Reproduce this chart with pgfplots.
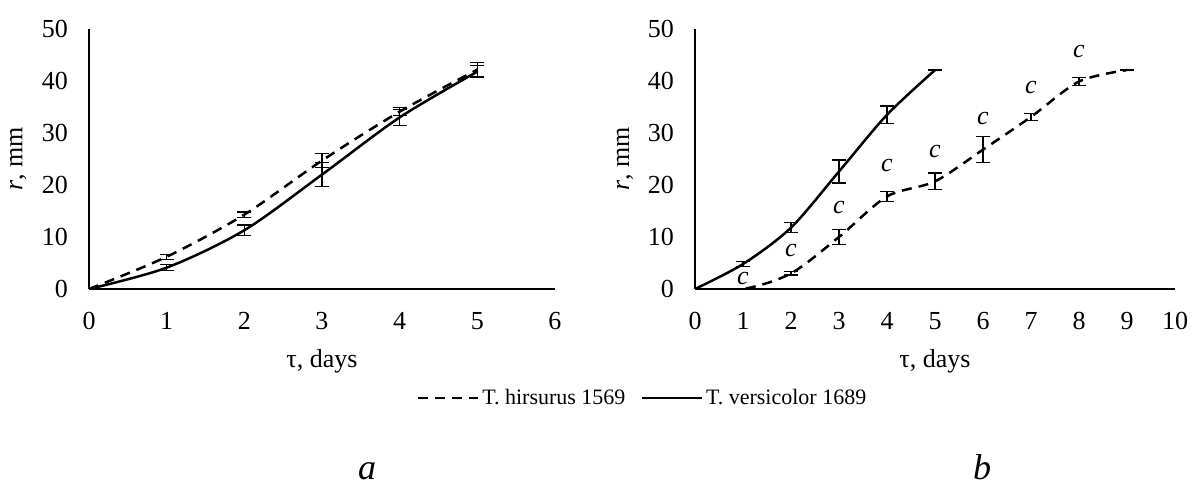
\documentclass[border=0pt]{standalone}
\usepackage{fontspec}
\setmainfont{Liberation Serif}
\usepackage{pgfplots}
\pgfplotsset{compat=1.18}

\pgfplotsset{
  growth/.style={
    scale only axis,
    height=130pt,
    ymin=0, ymax=50,
    ytick={0,10,...,50},
    axis x line=bottom, axis y line=left,
    axis line style={-, line width=1pt},
    major tick length=0pt,
    /pgf/number format/assume math mode=true,
    tick label style={font=\fontsize{13}{15}\selectfont},
    xticklabel style={yshift=-8pt},
    yticklabel style={xshift=-7pt},
    label style={font=\fontsize{13}{15}\selectfont},
    ylabel={\textit{r}, mm},
    xlabel={τ, days},
    xlabel style={at={(axis description cs:0.5,-0.277)}, anchor=center},
  },
  dsh/.style={black, line width=1.25pt, smooth, dash pattern=on 5pt off 3.5pt},
  sld/.style={black, line width=1.25pt, smooth},
  eb/.style={error bars/.cd, y dir=both, y explicit,
    error mark=|,
    error bar style={solid, line width=0.6pt, black},
    error mark options={solid, line width=0.6pt, mark size=3.5pt, black}},
}

\begin{document}
\begin{tikzpicture}
% left panel
\begin{axis}[growth,
  at={(44.5pt,98.5pt)}, anchor=south west,
  width=233pt,
  xmin=0, xmax=6, xtick={0,...,6},
  ylabel style={at={(axis description cs:-0.152,0.5)}, anchor=center},
  legend style={at={(axis description cs:1.189,-0.419)}, anchor=center,
    draw=none, legend columns=-1, font=\fontsize{11}{13}\selectfont,
    nodes={inner xsep=1.5pt},
    /tikz/every odd column/.append style={column sep=0pt},
    /tikz/every even column/.append style={column sep=6pt}},
  legend image code/.code={\draw[#1] (0pt,0pt) -- (30pt,0pt);},
]
\addplot[dsh, eb] coordinates {
  (0,0) +- (0,0)
  (1,6.2) +- (0,0.5)
  (2,14.3) +- (0,0.5)
  (3,24.7) +- (0,1.4)
  (4,34.1) +- (0,0.8)
  (5,42.2) +- (0,1.4)
};
\addlegendentry{T. hirsurus 1569}
\addplot[sld, eb] coordinates {
  (0,0) +- (0,0)
  (1,4.1) +- (0,0.6)
  (2,11.3) +- (0,1.0)
  (3,22.0) +- (0,2.3)
  (4,33.0) +- (0,1.5)
  (5,41.8) +- (0,1.2)
};
\addlegendentry{T. versicolor 1689}
\end{axis}

% right panel
\begin{axis}[growth,
  at={(347.5pt,98.5pt)}, anchor=south west,
  width=240pt,
  xmin=0, xmax=10, xtick={0,...,10},
  ylabel style={at={(axis description cs:-0.146,0.5)}, anchor=center},
]
\addplot[dsh, eb] coordinates {
  (0,0) +- (0,0)
  (1,0) +- (0,0)
  (2,3.0) +- (0,0.3)
  (3,10.0) +- (0,1.5)
  (4,17.8) +- (0,1.0)
  (5,20.7) +- (0,1.6)
  (6,26.8) +- (0,2.5)
  (7,33.1) +- (0,0.7)
  (8,39.9) +- (0,0.8)
  (9,42.1) +- (0,0)
};
\addplot[sld, eb] coordinates {
  (0,0) +- (0,0)
  (1,4.8) +- (0,0.5)
  (2,11.8) +- (0,1.0)
  (3,22.6) +- (0,2.2)
  (4,33.5) +- (0,1.7)
  (5,42.1) +- (0,0)
};
\addplot[draw=none, mark=none, nodes near coords={\textit{c}},
  nodes near coords align={center},
  every node near coord/.append style={font=\fontsize{13}{15}\selectfont, inner sep=0pt}]
  coordinates {(1,2.1) (2,7.4) (3,15.7) (4,23.7) (5,26.5) (6,32.7) (7,38.8) (8,45.6)};
\end{axis}

\node[anchor=base, font=\fontsize{18}{21}\selectfont\itshape] at (183.5pt,3pt) {a};
\node[anchor=base, font=\fontsize{18}{21}\selectfont\itshape] at (491pt,3pt) {b};

\pgfresetboundingbox
\useasboundingbox (0,0) rectangle (597pt,243pt);
\end{tikzpicture}
\end{document}
